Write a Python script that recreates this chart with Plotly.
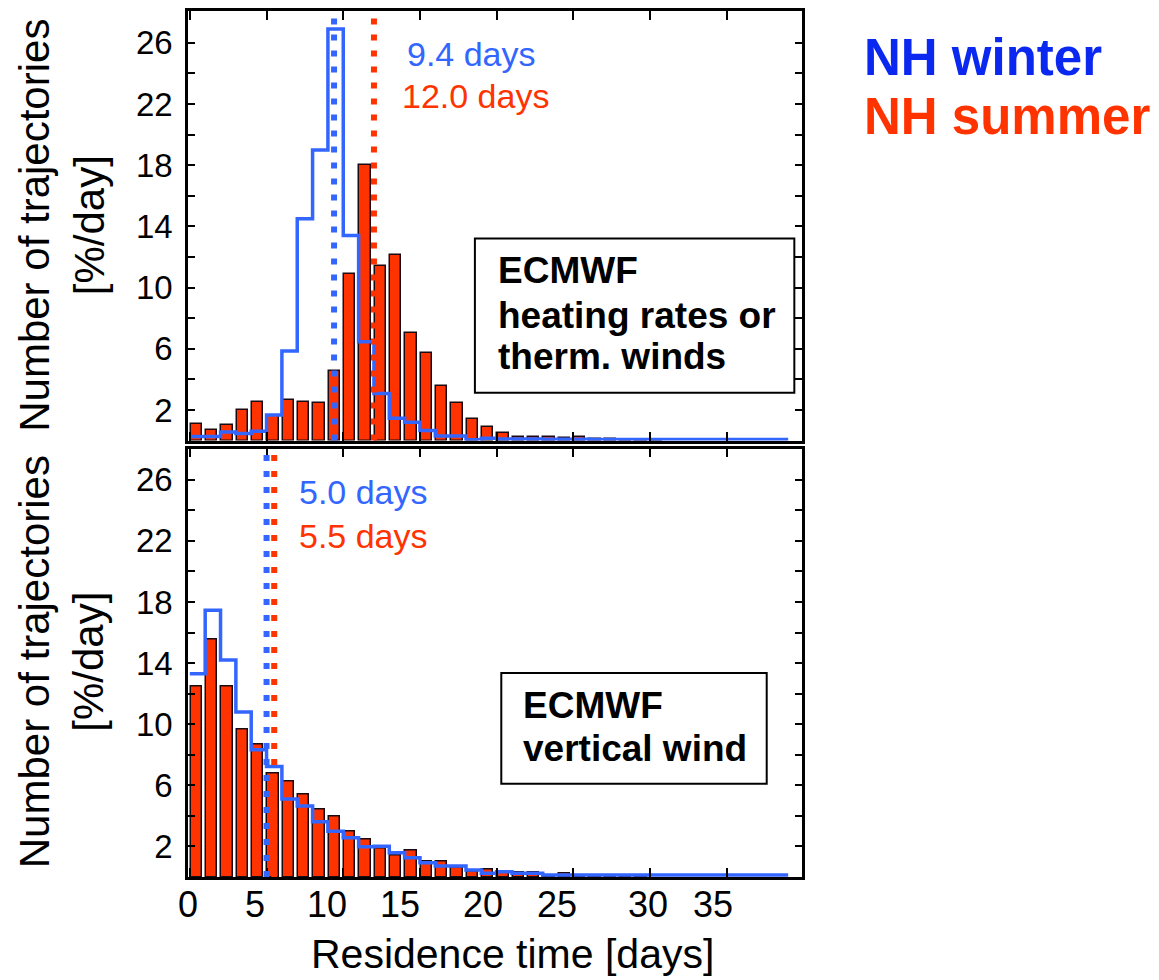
import numpy as np
import plotly.graph_objects as go

# Residence-time histograms, 1-day bins starting at day 0
bin_start = np.arange(39)

# Upper panel: ECMWF heating rates or thermal winds [%/day]
summer_heating = [1.07, 0.72, 1.02, 2.0, 2.5, 1.6, 2.65, 2.52, 2.43, 4.54,
                  10.9, 18.0, 11.4, 12.15, 7.0, 5.7, 3.56, 2.43, 1.41, 0.87,
                  0.52, 0.26, 0.2, 0.26, 0.17, 0.24, 0.1, 0.08, 0.06, 0.05,
                  0.04, None, None, None, None, None, None, None, None]
winter_heating = [0.26, 0.26, 0.56, 0.46, 0.6, 1.67, 5.86, 14.5, 19.0, 26.9,
                  13.4, 6.45, 3.08, 1.45, 1.19, 0.65, 0.3, 0.3, 0.05, 0.15,
                  0.1, 0.1, 0.1, 0.08, 0.08, 0.08, 0.06, 0.06, 0.06, 0.06,
                  0.06, 0.06, 0.06, 0.06, 0.06, 0.06, 0.06, 0.06, 0.06]

# Lower panel: ECMWF vertical wind [%/day]
summer_vertical = [12.46, 15.57, 12.46, 9.63, 8.68, 6.8, 6.26, 5.41, 4.43, 3.94,
                   2.96, 2.46, 1.87, 1.43, 1.72, 1.0, 1.0, 0.61, 0.35, 0.46,
                   0.32, 0.3, 0.28, 0.08, 0.2, 0.05, 0.08, 0.05, 0.1, 0.03,
                   None, None, None, None, None, None, None, None, None]
winter_vertical = [13.3, 17.46, 14.2, 10.8, 8.33, 7.24, 5.11, 4.65, 3.61, 3.0,
                   2.57, 1.98, 2.02, 1.59, 1.26, 0.93, 0.72, 0.72, 0.46, 0.24,
                   0.35, 0.24, 0.24, 0.13, 0.13, 0.13, 0.13, 0.13, 0.13, 0.13,
                   0.13, 0.13, 0.13, 0.13, 0.13, 0.13, 0.13, 0.13, 0.13]

# Mean residence times [days]
mean_heating = {"winter": 9.4, "summer": 12.0}
mean_vertical = {"winter": 5.0, "summer": 5.5}

# x tick labels as printed along the bottom axis
xtick_text = ["0", "5", "10", "15", "20", "25", "30", "35"]
xtick_pos = [-0.1, 4.24, 8.91, 13.69, 19.1, 23.9, 29.85, 34.1]

y_labels = [2, 6, 10, 14, 18, 22, 26]

RED = "#FF3300"
EDGE = "#1a0a14"
BLUE = "#3366FF"
DEEP_BLUE = "#0a28F0"
FONT = "Liberation Sans, Arial, sans-serif"

fig = go.Figure()

edges = np.arange(40)


def add_panel(summer, winter, xa, ya):
    fig.add_trace(go.Bar(
        x=bin_start + 0.414, y=summer, width=0.74,
        marker=dict(color=RED, line=dict(color=EDGE, width=1.5)),
        xaxis=xa, yaxis=ya, showlegend=False, hoverinfo="skip"))
    fig.add_trace(go.Scatter(
        x=edges, y=list(winter) + [winter[-1]], mode="lines",
        line=dict(color=BLUE, width=3.5, shape="hv"),
        xaxis=xa, yaxis=ya, showlegend=False, hoverinfo="skip"))


add_panel(summer_heating, winter_heating, "x", "y")
add_panel(summer_vertical, winter_vertical, "x2", "y2")

shapes = []
for xr, yr, means in (("x", "y", mean_heating), ("x2", "y2", mean_vertical)):
    for key, col in (("summer", RED), ("winter", BLUE)):
        shapes.append(dict(type="line", xref=xr, yref=yr + " domain",
                           x0=means[key], x1=means[key], y0=0, y1=1,
                           line=dict(color=col, width=6, dash="6px,10px"),
                           layer="above"))

# label boxes
shapes.append(dict(type="rect", xref="x", yref="y", x0=18.58, x1=39.4,
                   y0=3.13, y1=13.2, fillcolor="white",
                   line=dict(color="black", width=2), layer="above"))
shapes.append(dict(type="rect", xref="x2", yref="y2", x0=20.3, x1=37.6,
                   y0=6.11, y1=13.35, fillcolor="white",
                   line=dict(color="black", width=2), layer="above"))

ann = []


def text(x, y, s, xr, yr, size, color="black", bold=False, **kw):
    kw.setdefault("yanchor", "middle")
    ann.append(dict(x=x, y=y, xref=xr, yref=yr, text=f"<b>{s}</b>" if bold else s,
                    showarrow=False, font=dict(family=FONT, size=size, color=color),
                    **kw))


# mean labels
text(14.0, 25.3, f"{mean_heating['winter']:.1f} days", "x", "y", 34, BLUE, xanchor="left")
text(13.7, 22.5, f"{mean_heating['summer']:.1f} days", "x", "y", 34, RED, xanchor="left")
text(7.0, 25.2, f"{mean_vertical['winter']:.1f} days", "x2", "y2", 34, BLUE, xanchor="left")
text(7.0, 22.3, f"{mean_vertical['summer']:.1f} days", "x2", "y2", 34, RED, xanchor="left")

# box contents
text(19.95, 11.1, "ECMWF", "x", "y", 37, bold=True, xanchor="left")
text(19.95, 8.2, "heating rates or", "x", "y", 37, bold=True, xanchor="left")
text(19.95, 5.5, "therm. winds", "x", "y", 37, bold=True, xanchor="left")
text(21.6, 11.2, "ECMWF", "x2", "y2", 37, bold=True, xanchor="left")
text(21.6, 8.4, "vertical wind", "x2", "y2", 37, bold=True, xanchor="left")

# season key
text(1.0977, 0.946, "NH winter", "paper", "paper", 51, DEEP_BLUE, bold=True, xanchor="left")
text(1.0977, 0.878, "NH summer", "paper", "paper", 51, RED, bold=True, xanchor="left")

# bottom axis tick labels and title
for s, p in zip(xtick_text, xtick_pos):
    text(p, 0, s, "x2", "paper", 36, xanchor="center", yshift=-27)
text(21.0, 0, "Residence time [days]", "x2", "paper", 41, xanchor="center",
     yshift=-77)

# y titles
for yc in (0.752, 0.248):
    text(0, yc, "Number of trajectories<br>[%/day]", "paper", "paper", 42,
         textangle=-90, xanchor="center", xshift=-126)

ytickvals = list(range(2, 27, 2))
yticktext = [str(v) if v in y_labels else "" for v in ytickvals]

xax = dict(range=[-0.12, 39.9], tickvals=list(range(0, 41, 5)), ticks="inside",
           ticklen=9, tickwidth=2, tickcolor="black", showticklabels=False,
           showline=True, linewidth=2.5, linecolor="black", mirror="ticks",
           showgrid=False, zeroline=False)
yax = dict(tickvals=ytickvals, ticktext=yticktext, ticks="inside", ticklen=7,
           tickwidth=2, tickcolor="black", showline=True, linewidth=2.5,
           linecolor="black", mirror="ticks", showgrid=False, zeroline=False,
           tickfont=dict(family=FONT, size=33, color="black"),
           ticklabelstandoff=6)

fig.update_layout(
    width=1159, height=980,
    margin=dict(l=188, r=357, t=8, b=103),
    paper_bgcolor="white", plot_bgcolor="white",
    bargap=0, barmode="overlay",
    xaxis=dict(xax, anchor="y", domain=[0, 1]),
    xaxis2=dict(xax, anchor="y2", domain=[0, 1], matches="x"),
    yaxis=dict(yax, anchor="x", domain=[0.504, 1], range=[0, 28.08]),
    yaxis2=dict(yax, anchor="x2", domain=[0, 0.4948], range=[0, 28.05]),
    shapes=shapes, annotations=ann, showlegend=False,
)

fig.write_html("out.html")
